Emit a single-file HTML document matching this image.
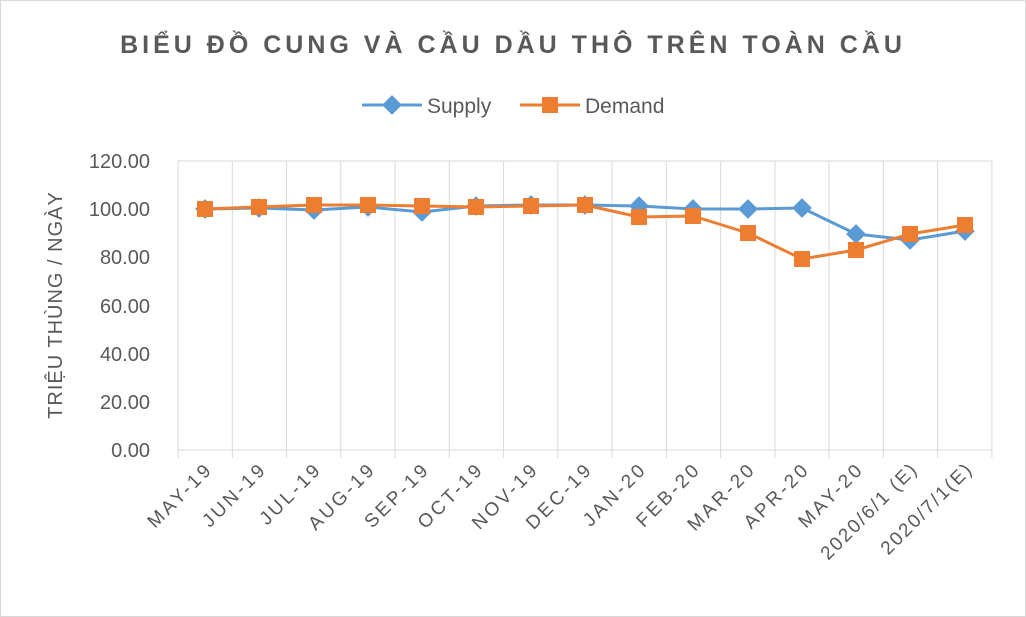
<!DOCTYPE html>
<html><head><meta charset="utf-8"><style>
body{margin:0;background:#fff;}
svg{display:block;font-family:"Liberation Sans","Noto Sans CJK SC",sans-serif;}
</style></head><body>
<svg width="1026" height="617" viewBox="0 0 1026 617">
<rect x="0.5" y="0.5" width="1025" height="616" fill="#fff" stroke="#d9d9d9"/>
<text x="513" y="53" text-anchor="middle" font-size="25" font-weight="bold" fill="#595959" letter-spacing="4">BIỂU ĐỒ CUNG VÀ CẦU DẦU THÔ TRÊN TOÀN CẦU</text>
<g font-size="21" fill="#595959">
<line x1="362" y1="105" x2="422" y2="105" stroke="#5b9bd5" stroke-width="3"/>
<rect x="385" y="98" width="14" height="14" fill="#5b9bd5" transform="rotate(45 392 105)"/>
<text x="427" y="113">Supply</text>
<line x1="520" y1="105" x2="580" y2="105" stroke="#ed7d31" stroke-width="3"/>
<rect x="542" y="97" width="16" height="16" fill="#ed7d31"/>
<text x="585" y="113">Demand</text>
</g>
<g stroke="#d9d9d9" stroke-width="1">
<line x1="178" y1="161" x2="992" y2="161"/>
<line x1="178" y1="450" x2="992" y2="450"/>
</g>
<g stroke="#d9d9d9">
<line x1="178" y1="161" x2="178" y2="458"/><line x1="232.3" y1="161" x2="232.3" y2="458"/><line x1="286.5" y1="161" x2="286.5" y2="458"/><line x1="340.8" y1="161" x2="340.8" y2="458"/><line x1="395" y1="161" x2="395" y2="458"/><line x1="449.3" y1="161" x2="449.3" y2="458"/><line x1="503.6" y1="161" x2="503.6" y2="458"/><line x1="557.8" y1="161" x2="557.8" y2="458"/><line x1="612.1" y1="161" x2="612.1" y2="458"/><line x1="666.3" y1="161" x2="666.3" y2="458"/><line x1="720.6" y1="161" x2="720.6" y2="458"/><line x1="774.9" y1="161" x2="774.9" y2="458"/><line x1="829.1" y1="161" x2="829.1" y2="458"/><line x1="883.4" y1="161" x2="883.4" y2="458"/><line x1="937.6" y1="161" x2="937.6" y2="458"/><line x1="991.9" y1="161" x2="991.9" y2="458"/>
</g>
<g font-size="20" fill="#595959" text-anchor="end">
<text x="150" y="168">120.00</text><text x="150" y="216">100.00</text><text x="150" y="264">80.00</text><text x="150" y="313">60.00</text><text x="150" y="361">40.00</text><text x="150" y="409">20.00</text><text x="150" y="457">0.00</text>
</g>
<text transform="translate(62 305) rotate(-90)" text-anchor="middle" font-size="20" fill="#595959" letter-spacing="1">TRIỆU THÙNG / NGÀY</text>
<g font-size="19" fill="#595959" text-anchor="end" letter-spacing="3">
<text transform="translate(214 470) rotate(-45)">MAY-19</text>
<text transform="translate(268 470) rotate(-45)">JUN-19</text>
<text transform="translate(323 470) rotate(-45)">JUL-19</text>
<text transform="translate(377 470) rotate(-45)">AUG-19</text>
<text transform="translate(431 470) rotate(-45)">SEP-19</text>
<text transform="translate(485 470) rotate(-45)">OCT-19</text>
<text transform="translate(540 470) rotate(-45)">NOV-19</text>
<text transform="translate(594 470) rotate(-45)">DEC-19</text>
<text transform="translate(648 470) rotate(-45)">JAN-20</text>
<text transform="translate(702 470) rotate(-45)">FEB-20</text>
<text transform="translate(757 470) rotate(-45)">MAR-20</text>
<text transform="translate(811 470) rotate(-45)">APR-20</text>
<text transform="translate(865 470) rotate(-45)">MAY-20</text>
<text transform="translate(919 470) rotate(-45)" letter-spacing="2">2020/6/1 (E)</text>
<text transform="translate(974 470) rotate(-45)" letter-spacing="2">2020/7/1(E)</text>
</g>
<polyline fill="none" stroke="#5b9bd5" stroke-width="3" stroke-linejoin="round" points="205,209 259,208 314,210 368,207 422,212 476,206 531,205 585,205 639,206 693,209 748,209 802,208 856,234 910,240 965,231"/>
<g fill="#5b9bd5">
<rect x="-7" y="-7" width="14" height="14" transform="translate(205 209) rotate(45)"/>
<rect x="-7" y="-7" width="14" height="14" transform="translate(259 208) rotate(45)"/>
<rect x="-7" y="-7" width="14" height="14" transform="translate(314 210) rotate(45)"/>
<rect x="-7" y="-7" width="14" height="14" transform="translate(368 207) rotate(45)"/>
<rect x="-7" y="-7" width="14" height="14" transform="translate(422 212) rotate(45)"/>
<rect x="-7" y="-7" width="14" height="14" transform="translate(476 206) rotate(45)"/>
<rect x="-7" y="-7" width="14" height="14" transform="translate(531 205) rotate(45)"/>
<rect x="-7" y="-7" width="14" height="14" transform="translate(585 205) rotate(45)"/>
<rect x="-7" y="-7" width="14" height="14" transform="translate(639 206) rotate(45)"/>
<rect x="-7" y="-7" width="14" height="14" transform="translate(693 209) rotate(45)"/>
<rect x="-7" y="-7" width="14" height="14" transform="translate(748 209) rotate(45)"/>
<rect x="-7" y="-7" width="14" height="14" transform="translate(802 208) rotate(45)"/>
<rect x="-7" y="-7" width="14" height="14" transform="translate(856 234) rotate(45)"/>
<rect x="-7" y="-7" width="14" height="14" transform="translate(910 240) rotate(45)"/>
<rect x="-7" y="-7" width="14" height="14" transform="translate(965 231) rotate(45)"/>
</g>
<polyline fill="none" stroke="#ed7d31" stroke-width="3" stroke-linejoin="round" points="205,209 259,207 314,205 368,205 422,206 476,207 531,206 585,205 639,217 693,216 748,233 802,259 856,250 910,234 965,225"/>
<g fill="#ed7d31">
<rect x="197" y="201" width="16" height="16"/><rect x="251" y="199" width="16" height="16"/><rect x="306" y="197" width="16" height="16"/><rect x="360" y="197" width="16" height="16"/><rect x="414" y="198" width="16" height="16"/><rect x="468" y="199" width="16" height="16"/><rect x="523" y="198" width="16" height="16"/><rect x="577" y="197" width="16" height="16"/><rect x="631" y="209" width="16" height="16"/><rect x="685" y="208" width="16" height="16"/><rect x="740" y="225" width="16" height="16"/><rect x="794" y="251" width="16" height="16"/><rect x="848" y="242" width="16" height="16"/><rect x="902" y="226" width="16" height="16"/><rect x="957" y="217" width="16" height="16"/>
</g>
</svg>
</body></html>
